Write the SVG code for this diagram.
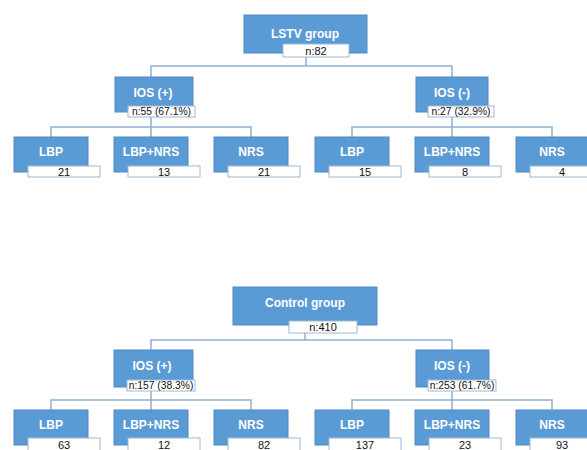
<svg xmlns="http://www.w3.org/2000/svg" width="587" height="450" viewBox="0 0 587 450">
<style>
.box{fill:#5b9bd5;stroke:#4f8ac4;stroke-width:1}
.lab{fill:#ffffff;stroke:#9fb8d2;stroke-width:1}
.t{font-family:"Liberation Sans",Arial,sans-serif;font-size:12px;font-weight:bold;fill:#ffffff;text-anchor:middle}
.n{font-family:"Liberation Sans",Arial,sans-serif;font-size:11px;fill:#111111;text-anchor:middle}
.p{font-size:10.3px}
.c{fill:none;stroke:#8fb1d3;stroke-width:1.5}
</style>
<rect width="587" height="450" fill="#ffffff"/>
<g id="connectors">
<path class="c" d="M306 57V66M151 77V66H452V77"/>
<path class="c" d="M151 117V127M51 137V127H251V137M151 127V137"/>
<path class="c" d="M452 117V127M352 137V127H552V137M452 127V137"/>
<path class="c" d="M305 333V340M151 350V340H452V350"/>
<path class="c" d="M151 391V400M51 410V400H251V410M151 400V410"/>
<path class="c" d="M452 391V400M352 410V400H552V410M452 400V410"/>
</g>
<g id="lstv">
<rect class="box" x="244" y="15" width="123" height="38"/>
<text class="t" x="305" y="38">LSTV group</text>
<rect class="lab" x="283" y="44" width="66" height="13"/>
<text class="n" x="316" y="54.5">n:82</text>
</g>
<g id="lstv-ios-pos">
<rect class="box" x="115" y="77" width="78" height="35"/>
<text class="t" x="153" y="97">IOS (+)</text>
<rect class="lab" x="128" y="106" width="67" height="11"/>
<text class="n p" x="161.5" y="115.3">n:55 (67.1%)</text>
</g>
<g id="lstv-ios-neg">
<rect class="box" x="416" y="77" width="72" height="35"/>
<text class="t" x="452" y="97">IOS (-)</text>
<rect class="lab" x="428" y="106" width="66" height="11"/>
<text class="n p" x="461" y="115.3">n:27 (32.9%)</text>
</g>
<g id="lstv-pos-lbp">
<rect class="box" x="14" y="137" width="74" height="35"/>
<text class="t" x="51" y="156">LBP</text>
<rect class="lab" x="28" y="166" width="72" height="11"/>
<text class="n" x="64" y="175.5">21</text>
</g>
<g id="lstv-pos-lbpnrs">
<rect class="box" x="114" y="137" width="74" height="35"/>
<text class="t" x="151" y="156">LBP+NRS</text>
<rect class="lab" x="128" y="166" width="72" height="11"/>
<text class="n" x="164" y="175.5">13</text>
</g>
<g id="lstv-pos-nrs">
<rect class="box" x="214" y="137" width="74" height="35"/>
<text class="t" x="251" y="156">NRS</text>
<rect class="lab" x="228" y="166" width="72" height="11"/>
<text class="n" x="264" y="175.5">21</text>
</g>
<g id="lstv-neg-lbp">
<rect class="box" x="315" y="137" width="74" height="35"/>
<text class="t" x="352" y="156">LBP</text>
<rect class="lab" x="329" y="166" width="72" height="11"/>
<text class="n" x="365" y="175.5">15</text>
</g>
<g id="lstv-neg-lbpnrs">
<rect class="box" x="415" y="137" width="74" height="35"/>
<text class="t" x="452" y="156">LBP+NRS</text>
<rect class="lab" x="429" y="166" width="72" height="11"/>
<text class="n" x="465" y="175.5">8</text>
</g>
<g id="lstv-neg-nrs">
<rect class="box" x="516" y="137" width="74" height="35"/>
<text class="t" x="552" y="156">NRS</text>
<rect class="lab" x="530" y="166" width="72" height="11"/>
<text class="n" x="562" y="175.5">4</text>
</g>
<g id="control">
<rect class="box" x="233" y="287" width="144" height="38"/>
<text class="t" x="305" y="307">Control group</text>
<rect class="lab" x="289" y="321" width="68" height="12"/>
<text class="n" x="323" y="331">n:410</text>
</g>
<g id="ctrl-ios-pos">
<rect class="box" x="114" y="350" width="79" height="37"/>
<text class="t" x="152" y="370">IOS (+)</text>
<rect class="lab" x="127" y="380" width="68" height="11"/>
<text class="n p" x="161" y="389.3">n:157 (38.3%)</text>
</g>
<g id="ctrl-ios-neg">
<rect class="box" x="416" y="350" width="73" height="37"/>
<text class="t" x="452" y="370">IOS (-)</text>
<rect class="lab" x="428" y="380" width="68" height="11"/>
<text class="n p" x="462" y="389.3">n:253 (61.7%)</text>
</g>
<g id="ctrl-pos-lbp">
<rect class="box" x="14" y="410" width="74" height="35"/>
<text class="t" x="51" y="429">LBP</text>
<rect class="lab" x="28" y="438" width="72" height="13"/>
<text class="n" x="64" y="448.5">63</text>
</g>
<g id="ctrl-pos-lbpnrs">
<rect class="box" x="114" y="410" width="74" height="35"/>
<text class="t" x="151" y="429">LBP+NRS</text>
<rect class="lab" x="128" y="438" width="72" height="13"/>
<text class="n" x="164" y="448.5">12</text>
</g>
<g id="ctrl-pos-nrs">
<rect class="box" x="214" y="410" width="74" height="35"/>
<text class="t" x="251" y="429">NRS</text>
<rect class="lab" x="228" y="438" width="72" height="13"/>
<text class="n" x="264" y="448.5">82</text>
</g>
<g id="ctrl-neg-lbp">
<rect class="box" x="315" y="410" width="74" height="35"/>
<text class="t" x="352" y="429">LBP</text>
<rect class="lab" x="329" y="438" width="72" height="13"/>
<text class="n" x="365" y="448.5">137</text>
</g>
<g id="ctrl-neg-lbpnrs">
<rect class="box" x="415" y="410" width="74" height="35"/>
<text class="t" x="452" y="429">LBP+NRS</text>
<rect class="lab" x="429" y="438" width="72" height="13"/>
<text class="n" x="465" y="448.5">23</text>
</g>
<g id="ctrl-neg-nrs">
<rect class="box" x="516" y="410" width="74" height="35"/>
<text class="t" x="552" y="429">NRS</text>
<rect class="lab" x="530" y="438" width="72" height="13"/>
<text class="n" x="562" y="448.5">93</text>
</g>
</svg>
